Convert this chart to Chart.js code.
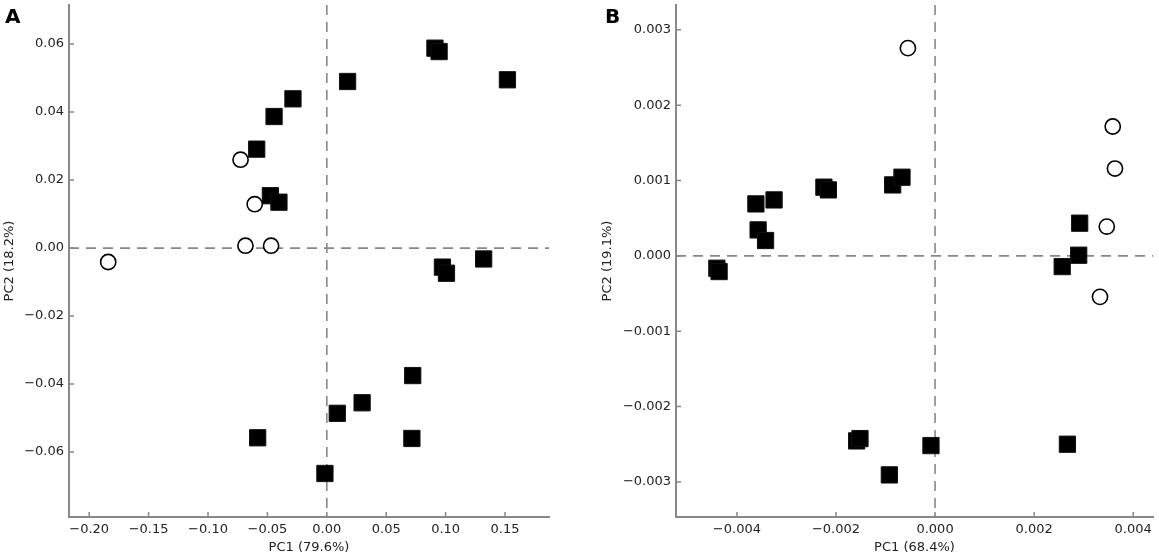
<!DOCTYPE html>
<html>
<head>
<meta charset="utf-8">
<title>PCA plots</title>
<script src="https://cdn.jsdelivr.net/npm/chart.js@4/dist/chart.umd.min.js"></script>
<style>
    html, body { margin: 0; padding: 0; background: #fff; }
    body { width: 1159px; height: 558px; position: relative; overflow: hidden; font-family: "DejaVu Sans", sans-serif; }
    .panel { position: absolute; top: 0; height: 558px; }
    #panelA { left: 0; width: 580px; }
    #panelB { left: 580px; width: 579px; }
    .tag { position: absolute; font: bold 20px/20px "DejaVu Sans", sans-serif; color: #000; }
</style>
</head>
<body>
<div class="panel" id="panelA"><canvas id="chartA"></canvas></div>
<div class="panel" id="panelB"><canvas id="chartB"></canvas></div>
<div class="tag" style="left:5px; top:6px;">A</div>
<div class="tag" style="left:605px; top:6px;">B</div>
<script>
// Panel A — PC1 vs PC2 scores
const A_SQUARE_PC1 = [0.091, 0.0945, 0.152, 0.0175, -0.0285, -0.0444, -0.059, -0.0475, -0.0403,
                      0.0973, 0.1007, 0.132, 0.0723, 0.0297, 0.0088, 0.0716, -0.0582, -0.0016];
const A_SQUARE_PC2 = [0.0588, 0.0578, 0.0495, 0.049, 0.0439, 0.0387, 0.0291, 0.0154, 0.0135,
                      -0.0056, -0.0074, -0.0032, -0.0375, -0.0455, -0.0486, -0.056, -0.0558, -0.0663];
const A_CIRCLE_PC1 = [-0.0726, -0.0607, -0.0685, -0.0469, -0.184];
const A_CIRCLE_PC2 = [0.026, 0.0129, 0.0007, 0.0007, -0.0041];
const A_X_TICKS = [-0.20, -0.15, -0.10, -0.05, 0.00, 0.05, 0.10, 0.15];
const A_Y_TICKS = [-0.06, -0.04, -0.02, 0.00, 0.02, 0.04, 0.06];

// Panel B — PC1 vs PC2 scores
const B_SQUARE_PC1 = [-0.004405, -0.00436, -0.003617, -0.00325, -0.003572, -0.003422, -0.002244, -0.002154,
                      -0.000856, -0.000668, 0.00292, 0.0029, 0.002567, -0.001583, -0.001516, -0.000923,
                      -0.0000826, 0.002672];
const B_SQUARE_PC2 = [-0.000164, -0.000208, 0.00069, 0.000743, 0.000345, 0.000204, 0.000912, 0.000876,
                      0.000942, 0.001044, 0.000434, 0.0000088, -0.000142, -0.002456, -0.002425, -0.002907,
                      -0.002518, -0.0025];
const B_CIRCLE_PC1 = [-0.000548, 0.003587, 0.003632, 0.003467, 0.00333];
const B_CIRCLE_PC2 = [0.002757, 0.001717, 0.001159, 0.000389, -0.000544];
const B_X_TICKS = [-0.004, -0.002, 0.000, 0.002, 0.004];
const B_Y_TICKS = [-0.003, -0.002, -0.001, 0.000, 0.001, 0.002, 0.003];

// axis labels
const A_AXIS_TITLES = ['PC1 (79.6%)', 'PC2 (18.2%)'];
const B_AXIS_TITLES = ['PC1 (68.4%)', 'PC2 (19.1%)'];

const GREY = '#888888';
const TXT  = '#222222';
const FONT = '"DejaVu Sans", sans-serif';

Chart.defaults.font.family = FONT;
Chart.defaults.color = TXT;

const toPoints = (xs, ys) => xs.map((x, i) => ({ x, y: ys[i] }));

function fmt(v, d) {
    if (Math.abs(v) < 1e-12) v = 0;
    return (v < 0 ? '\u2212' : '') + Math.abs(v).toFixed(d);
}

// dashed zero lines + inward tick marks, all from the chart's scales
const axisDecor = {
    id: 'axisDecor',
    beforeDatasetsDraw(chart) {
        const { ctx, chartArea: a, scales: { x, y } } = chart;
        const x0 = x.getPixelForValue(0);
        const y0 = y.getPixelForValue(0);
        ctx.save();
        ctx.strokeStyle = GREY;
        ctx.lineWidth = 1.6;
        ctx.setLineDash([10, 7]);
        ctx.beginPath();
        ctx.moveTo(x0, a.top); ctx.lineTo(x0, a.bottom);
        ctx.moveTo(a.left, y0); ctx.lineTo(a.right, y0);
        ctx.stroke();

        ctx.setLineDash([]);
        ctx.lineWidth = 1.5;
        ctx.beginPath();
        x.ticks.forEach((t, i) => {
            const px = x.getPixelForTick(i);
            ctx.moveTo(px, a.bottom); ctx.lineTo(px, a.bottom - 5);
        });
        y.ticks.forEach((t, i) => {
            const py = y.getPixelForTick(i);
            ctx.moveTo(a.left, py); ctx.lineTo(a.left + 5, py);
        });
        ctx.stroke();
        ctx.restore();
    }
};

function makeScatter(canvasId, cfg) {
    return new Chart(document.getElementById(canvasId), {
        type: 'scatter',
        data: {
            datasets: [
                {
                    label: 'circles',
                    data: toPoints(cfg.circleX, cfg.circleY),
                    pointStyle: 'circle',
                    pointRadius: 7.6,
                    pointBackgroundColor: '#ffffff',
                    pointBorderColor: '#000000',
                    pointBorderWidth: 1.6,
                },
                {
                    label: 'squares',
                    data: toPoints(cfg.squareX, cfg.squareY),
                    pointStyle: 'rect',
                    pointRadius: 11.5,
                    pointBackgroundColor: '#000000',
                    pointBorderColor: '#111111',
                    pointBorderWidth: 1,
                }
            ]
        },
        options: {
            responsive: true,
            maintainAspectRatio: false,
            animation: false,
            events: [],
            layout: { autoPadding: false, padding: { top: 5, right: cfg.padRight, left: 0, bottom: 0 } },
            plugins: { legend: { display: false }, tooltip: { enabled: false } },
            scales: {
                x: {
                    type: 'linear',
                    position: 'bottom',
                    min: cfg.xRange[0], max: cfg.xRange[1],
                    grid: { display: false, drawTicks: false },
                    border: { display: true, color: GREY, width: 2 },
                    ticks: {
                        padding: 5, color: TXT, font: { size: 13 }, maxRotation: 0, autoSkip: false,
                        callback: (v) => fmt(v, cfg.decimals)
                    },
                    afterBuildTicks: (s) => { s.ticks = cfg.xTicks.map(v => ({ value: v })); },
                    title: { display: true, text: cfg.titles[0], color: TXT, font: { size: 13 }, padding: 3 },
                    afterFit: (s) => { s.height = 41; s.paddingLeft = 0; s.paddingRight = 0; }
                },
                y: {
                    type: 'linear',
                    position: 'left',
                    min: cfg.yRange[0], max: cfg.yRange[1],
                    grid: { display: false, drawTicks: false },
                    border: { display: true, color: GREY, width: 2 },
                    ticks: {
                        padding: 5, color: TXT, font: { size: 13 }, autoSkip: false,
                        callback: (v) => fmt(v, cfg.decimals)
                    },
                    afterBuildTicks: (s) => { s.ticks = cfg.yTicks.map(v => ({ value: v })); },
                    title: { display: true, text: cfg.titles[1], color: TXT, font: { size: 13 }, padding: cfg.yTitlePad },
                    afterFit: (s) => { s.width = cfg.yWidth; s.paddingTop = 0; s.paddingBottom = 0; }
                }
            }
        },
        plugins: [axisDecor]
    });
}

makeScatter('chartA', {
    squareX: A_SQUARE_PC1, squareY: A_SQUARE_PC2,
    circleX: A_CIRCLE_PC1, circleY: A_CIRCLE_PC2,
    xTicks: A_X_TICKS, yTicks: A_Y_TICKS,
    titles: A_AXIS_TITLES,
    xRange: [-0.217, 0.187], yRange: [-0.0791, 0.0715],
    decimals: 2,
    yWidth: 69, padRight: 31, yTitlePad: 2
});

makeScatter('chartB', {
    squareX: B_SQUARE_PC1, squareY: B_SQUARE_PC2,
    circleX: B_CIRCLE_PC1, circleY: B_CIRCLE_PC2,
    xTicks: B_X_TICKS, yTicks: B_Y_TICKS,
    titles: B_AXIS_TITLES,
    xRange: [-0.00523, 0.0044], yRange: [-0.003466, 0.00333],
    decimals: 3,
    yWidth: 96, padRight: 6, yTitlePad: 20
});
</script>
</body>
</html>
